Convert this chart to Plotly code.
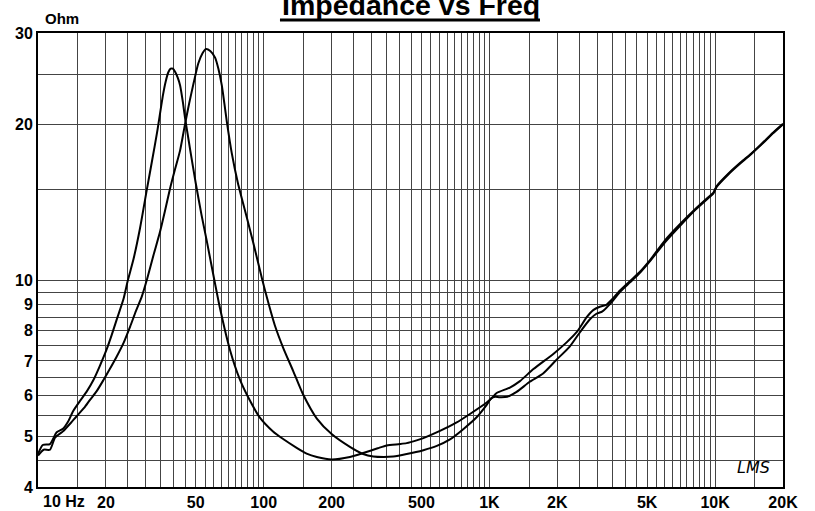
import plotly.graph_objects as go
import math

# ---- data ----
freq_a = [10, 10.5, 11.3, 12.1, 12.9, 13.6, 14.3, 15.3, 16.4, 17.6,
          18.8, 20.1, 21.2, 22.3, 23.9, 25.0, 26.5, 28.3, 30.3, 32.0,
          33.7, 35.8, 36.8, 37.8, 38.7, 39.6, 40.6, 41.6, 42.6, 43.9,
          44.8, 46.0, 47.2, 50.0, 53.0, 56.0, 60.5, 64.0, 70.9, 78.4,
          86.9, 96, 110, 122, 140, 155, 172, 200, 241, 276,
          320, 351, 401, 430, 476, 510, 604, 713, 820, 973,
          1030, 1077, 1233, 1366, 1567, 1920, 2199, 2436, 2700, 2885,
          3085, 3300, 3530, 3800, 4200, 4600, 5150, 6000, 7000, 8200,
          9300, 9820, 10160, 11500, 13000, 14300, 16500, 18000, 20000]
z_a = [4.63, 4.82, 4.84, 5.1, 5.18, 5.35, 5.6, 5.85, 6.1, 6.43,
       6.85, 7.35, 7.85, 8.4, 9.2, 10.0, 11.0, 12.6, 14.9, 17.0,
       19.3, 22.8, 24.2, 25.2, 25.6, 25.6, 25.2, 24.6, 23.8, 22.0,
       20.6, 19.2, 17.9, 15.4, 13.4, 11.9, 10.0, 8.85, 7.35, 6.45,
       5.87, 5.45, 5.12, 4.95, 4.76, 4.64, 4.57, 4.52, 4.57, 4.65,
       4.75, 4.81, 4.84, 4.86, 4.92, 4.97, 5.13, 5.32, 5.53, 5.82,
       5.95, 6.07, 6.22, 6.4, 6.75, 7.22, 7.6, 7.95, 8.5, 8.77,
       8.9, 8.98, 9.24, 9.58, 9.98, 10.35, 10.95, 11.95, 12.85, 13.75,
       14.45, 14.75, 15.2, 16.1, 16.9, 17.5, 18.5, 19.2, 20.0]

freq_b = [10, 10.6, 11.3, 11.9, 12.9, 14.0, 14.8, 16.0, 17.0, 18.2,
          19.5, 20.8, 22.3, 24.0, 25.6, 27.2, 28.8, 30.5, 32.5, 34.7,
          36.5, 38.4, 40.5, 42.6, 44.8, 46.8, 48.9, 51.3, 53.5, 55.5,
          58.0, 60.9, 63.0, 65.2, 67.0, 68.7, 72.2, 76.9, 84.3, 89.8,
          98.5, 103.5, 112, 122, 135, 149, 172, 200, 241, 276,
          306, 340, 375, 430, 510, 585, 669, 766, 878, 973,
          1020, 1060, 1110, 1200, 1320, 1510, 1730, 1980, 2270, 2520,
          2790, 2980, 3170, 3530, 3800, 4200, 4600, 5150, 6000, 7000,
          8200, 9300, 9820, 10160, 11500, 13000, 14300, 16500, 18000, 20000]
z_b = [4.6, 4.72, 4.72, 4.98, 5.12, 5.32, 5.47, 5.68, 5.89, 6.12,
       6.43, 6.75, 7.13, 7.6, 8.15, 8.75, 9.3, 10.1, 11.2, 12.4,
       13.6, 15.0, 16.4, 17.8, 20.0, 22.0, 24.0, 26.2, 27.4, 27.95,
       27.7, 26.9, 25.6, 23.8, 21.9, 20.2, 17.6, 15.4, 13.2, 11.85,
       10.05, 9.25, 8.2, 7.42, 6.7, 6.05, 5.42, 5.06, 4.78, 4.63,
       4.58, 4.57, 4.58, 4.63, 4.71, 4.8, 4.94, 5.17, 5.45, 5.76,
       5.93, 5.97, 5.96, 5.97, 6.1, 6.38, 6.62, 7.03, 7.46, 7.95,
       8.42, 8.63, 8.72, 9.15, 9.52, 9.92, 10.3, 10.9, 11.85, 12.75,
       13.7, 14.4, 14.7, 15.15, 16.05, 16.85, 17.45, 18.55, 19.25, 20.05]

x_tick_vals = [20, 50, 100, 200, 500, 1000, 2000, 5000, 10000, 20000]
x_tick_text = ["20", "50", "100", "200", "500", "1K", "2K", "5K", "10K", "20K"]
y_tick_vals = [4, 5, 6, 7, 8, 9, 10, 20, 30]
y_tick_text = ["4", "5", "6", "7", "8", "9", "10", "20", "30"]

# grid positions (mantissa steps of 0.5 per decade)
mant = [1 + 0.5 * i for i in range(19)]
x_grid = sorted(set([round(m * d, 6) for d in (10, 100, 1000) for m in mant] + [10000, 15000, 20000]))
y_grid = sorted(set([4 + 0.5 * i for i in range(13)] + [15, 20, 25, 30]))

def tick_labels(grid, vals, texts):
    lab = dict(zip(vals, texts))
    return [lab.get(g, "") for g in grid]

FONT = "Liberation Sans, Arial, Helvetica, sans-serif"
GRID = "#444444"

fig = go.Figure()
for fx, zy in ((freq_a, z_a), (freq_b, z_b)):
    fig.add_trace(go.Scatter(x=fx, y=zy, mode="lines",
                             line=dict(color="black", width=2, shape="spline", smoothing=0.6),
                             hoverinfo="skip", showlegend=False))

fig.update_layout(
    width=815, height=511, autosize=False,
    margin=dict(l=38, r=32, t=33, b=24, pad=0, autoexpand=False),
    paper_bgcolor="white", plot_bgcolor="white",
    font=dict(family=FONT, color="black"),
    showlegend=False,
)
fig.update_xaxes(type="log", range=[1, math.log10(20000)], automargin=False,
                 tickmode="array", tickvals=x_grid,
                 ticktext=tick_labels(x_grid, x_tick_vals, x_tick_text),
                 showgrid=True, gridcolor=GRID, gridwidth=1,
                 ticks="",
                 tickfont=dict(size=16, family=FONT, color="black", weight="bold"),
                 showline=True, linecolor="black", linewidth=2, mirror=True,
                 zeroline=False)
fig.update_yaxes(type="log", range=[math.log10(4), math.log10(30)], automargin=False,
                 tickmode="array", tickvals=y_grid,
                 ticktext=tick_labels(y_grid, y_tick_vals, y_tick_text),
                 showgrid=True, gridcolor=GRID, gridwidth=1,
                 ticks="",
                 tickfont=dict(size=16, family=FONT, color="black", weight="bold"),
                 showline=True, linecolor="black", linewidth=2, mirror=True,
                 zeroline=False)

# title with underline
fig.add_annotation(text="<b>Impedance vs Freq</b>", xref="paper", yref="paper",
                   x=0.5, y=1.061, xanchor="center", yanchor="middle", showarrow=False,
                   font=dict(size=28.5, family=FONT, color="black"))
fig.add_shape(type="line", xref="paper", yref="paper", x0=0.3248, x1=0.6738,
              y0=1.0286, y1=1.0286, line=dict(color="black", width=3))
# unit label
fig.add_annotation(text="<b>Ohm</b>", xref="paper", yref="paper", x=0.0067, y=1.033,
                   xanchor="left", yanchor="middle", showarrow=False,
                   font=dict(size=15, family=FONT, color="black"))
# first x label
fig.add_annotation(text="<b>10 Hz</b>", xref="paper", yref="paper", x=0.004, y=-0.033,
                   xanchor="left", yanchor="middle", showarrow=False,
                   font=dict(size=16, family=FONT, color="black"))
# logo
fig.add_annotation(text="<i>LMS</i>", xref="paper", yref="paper", x=0.961, y=0.044,
                   xanchor="center", yanchor="middle", showarrow=False,
                   font=dict(size=16, family="DejaVu Sans, sans-serif", color="black"))

fig.write_html("out.html", config={"responsive": False, "displayModeBar": False},
               default_width="815px", default_height="511px",
               post_script="document.body.style.margin='0';document.body.style.overflow='hidden';")
